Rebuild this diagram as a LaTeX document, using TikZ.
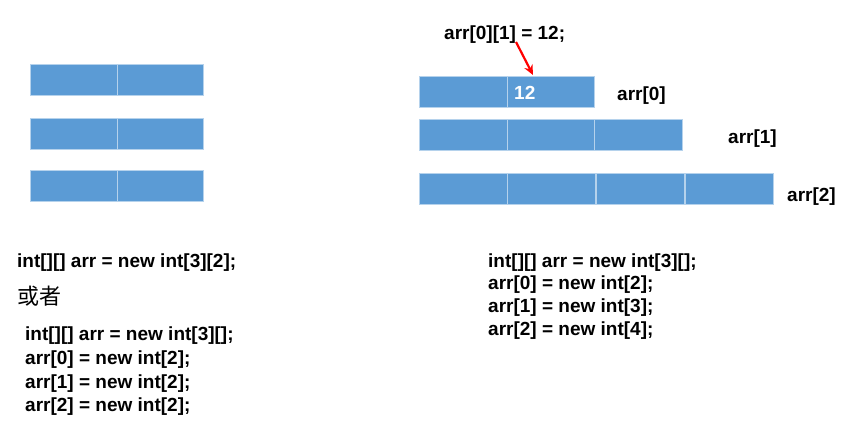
\documentclass[tikz,border=0pt]{standalone}
\usepackage{fontspec}
\setmainfont{Liberation Sans}
\newfontfamily\cjk{Noto Sans CJK SC}
\usetikzlibrary{arrows.meta}
\definecolor{cellblue}{HTML}{5B9BD5}
\definecolor{arrowred}{HTML}{FF0000}
\tikzset{
  cell/.style={rectangle, fill=cellblue, draw=white!55!cellblue, line width=1pt, minimum height=31pt, inner sep=0pt, anchor=north west},
  lcell/.style={cell, minimum width=86.5pt},
  rcell/.style={cell, minimum width=87.5pt},
  code/.style={anchor=base west, inner sep=0pt, font=\fontsize{19}{21}\selectfont\bfseries},
  zh/.style={anchor=base west, inner sep=0pt, font=\fontsize{22}{24}\selectfont\cjk},
  redarrow/.style={draw=arrowred, line width=2.2pt, -{Stealth[length=10pt,width=9pt]}}
}
\begin{document}
\begin{tikzpicture}[x=1pt,y=-1pt]
\useasboundingbox (0,0) rectangle (846,431);
% left grid
\foreach \r/\y in {0/64,1/117.5,2/170}{
  \node[lcell] (l\r0) at (30,\y) {};
  \node[lcell] (l\r1) at (116.5,\y) {};
}
% right jagged array
\node[rcell] (r00) at (419,76) {};
\node[rcell] (r01) at (506.5,76) {};
\node[rcell] (r10) at (419,119) {};
\node[rcell] (r11) at (506.5,119) {};
\node[rcell] (r12) at (594,119) {};
\node[rcell] (r20) at (419,173) {};
\node[rcell] (r21) at (507,173) {};
\node[rcell] (r22) at (596,173) {};
\node[rcell] (r23) at (685,173) {};
\node[code, text=white] (v12) at (514,99) {12};
% labels
\node[code] (lab0) at (617,100) {arr[0]};
\node[code] (lab1) at (728,143) {arr[1]};
\node[code] (lab2) at (787,201) {arr[2]};
\node[code] (assign) at (444,39) {arr[0][1] = 12;};
\coordinate (astart) at (516,42);
\coordinate (aend) at (533,75);
\draw[redarrow] (astart) -- (aend);
% left code
\node[code] (lc0) at (17,267) {int[][] arr = new int[3][2];};
\node[zh] (huozhe) at (17,304) {或者};
\node[code] (lc1) at (25,340) {int[][] arr = new int[3][];};
\node[code] (lc2) at (25,364) {arr[0] = new int[2];};
\node[code] (lc3) at (25,388) {arr[1] = new int[2];};
\node[code] (lc4) at (25,411) {arr[2] = new int[2];};
% right code
\node[code] (rc1) at (488,267) {int[][] arr = new int[3][];};
\node[code] (rc2) at (488,289) {arr[0] = new int[2];};
\node[code] (rc3) at (488,312) {arr[1] = new int[3];};
\node[code] (rc4) at (488,335) {arr[2] = new int[4];};
\end{tikzpicture}
\end{document}
